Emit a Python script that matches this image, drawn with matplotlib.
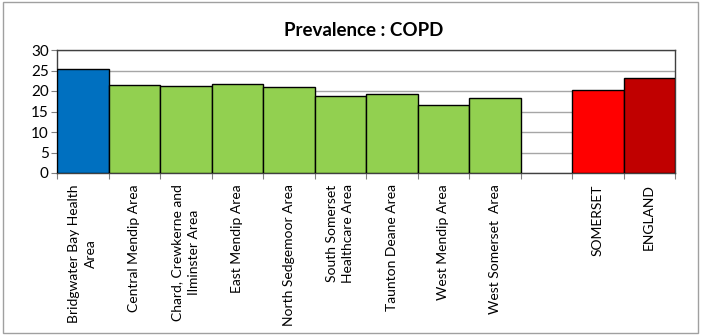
import matplotlib
matplotlib.use("Agg")
import matplotlib.pyplot as plt
from matplotlib.patches import Rectangle

categories = ["Bridgwater Bay Health\nArea", "Central Mendip Area", "Chard, Crewkerne and\nIlminster Area",
              "East Mendip Area", "North Sedgemoor Area", "South Somerset\nHealthcare Area",
              "Taunton Deane Area", "West Mendip Area", "West Somerset  Area", "",
              "SOMERSET", "ENGLAND"]
values = [25.4, 21.4, 21.3, 21.8, 21.0, 18.8, 19.3, 16.7, 18.4, None, 20.2, 23.2]
colors = ["#0070C0"] + ["#92D050"] * 8 + ["white", "#FF0000", "#C00000"]
yticks = [0, 5, 10, 15, 20, 25, 30]

plt.rcParams['font.family'] = ['Lato', 'DejaVu Sans']
fig = plt.figure(figsize=(7.01, 3.35), dpi=100)
fig.patches.append(Rectangle((0.004, 0.006), 0.992, 0.988, transform=fig.transFigure,
                             fill=False, edgecolor="#A0A0A0", linewidth=1))
ax = fig.add_axes([57/701, 1-173/335, 618/701, 123/335])
xs = list(range(len(categories)))
for x, v, c in zip(xs, values, colors):
    if v is not None:
        ax.bar(x, v, width=1.0, color=c, edgecolor="black", linewidth=1, zorder=3)
ax.set_xlim(-0.5, len(categories) - 0.5)
ax.set_ylim(0, 30)
ax.set_yticks(yticks)
ax.yaxis.grid(True, color="#A6A6A6", linewidth=1, zorder=0)
ax.set_axisbelow(True)
for s in ax.spines.values():
    s.set_color("#404040")
    s.set_linewidth(1)
ax.set_xticks([x - 0.5 for x in xs] + [len(xs) - 0.5])
ax.set_xticklabels([])
ax.set_xticks(xs, minor=True)
ax.set_xticklabels(categories, minor=True, rotation=90, fontsize=10, ha="center", va="top",
                   multialignment="center", linespacing=1.45)
ax.tick_params(axis="x", which="minor", length=0, pad=8)
ax.tick_params(axis="x", which="major", length=4, color="#808080")
ax.tick_params(axis="y", length=4, color="#808080", labelsize=11, pad=2)
fig.text(364/701, 1-30/335, "Prevalence : COPD", ha="center", va="center",
         fontsize=13.5, fontweight="bold")
fig.savefig("out.png", dpi=100)
